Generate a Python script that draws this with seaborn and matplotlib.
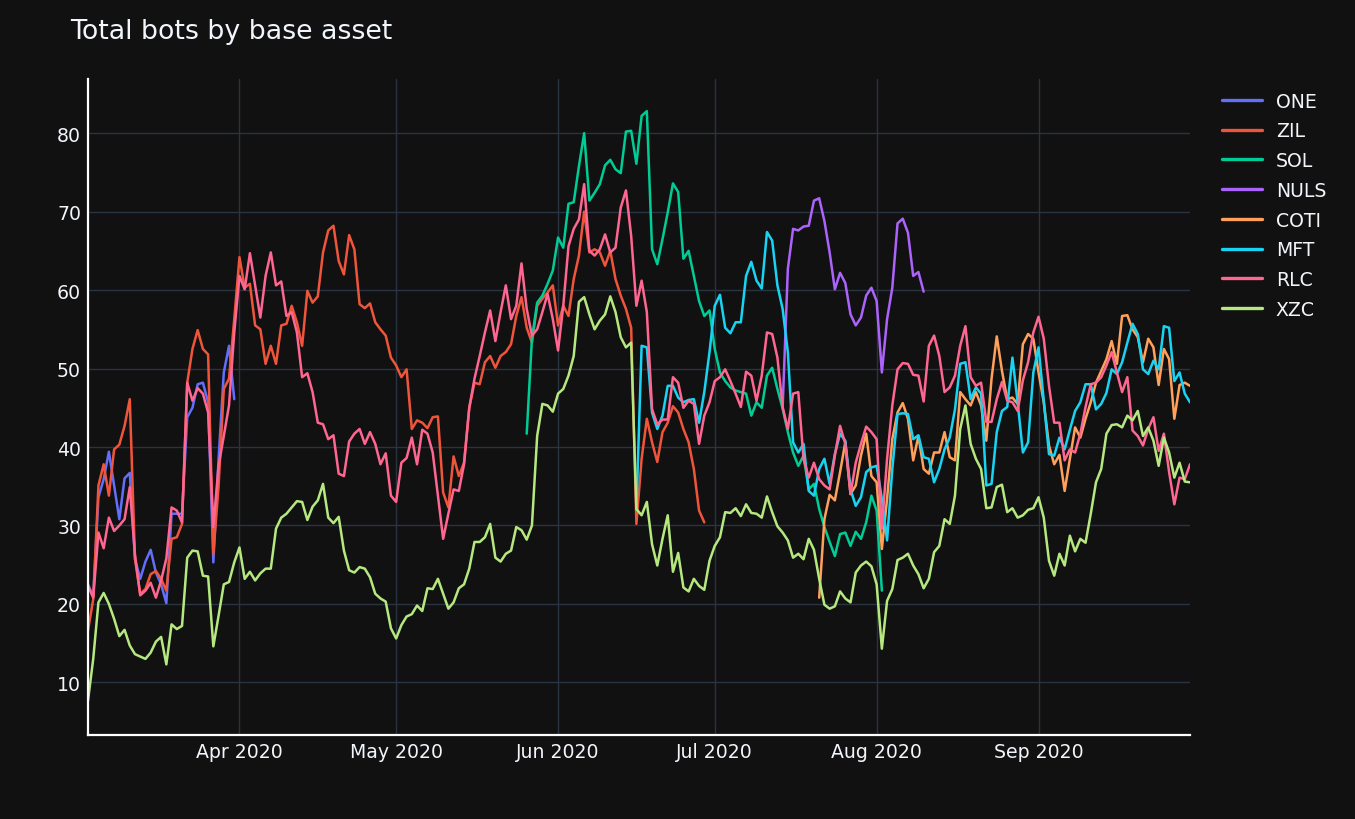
import pandas as pd
import numpy as np
import matplotlib
matplotlib.use("Agg")
import matplotlib.pyplot as plt
import matplotlib.dates as mdates
import seaborn as sns

# daily values, first day of each series given separately
one_start = "2020-03-03"
one = [22.5, 21.0, 33.6, 35.9, 39.4, 35.1, 30.8, 36.0, 36.7, 25.7,
       23.2, 25.4, 26.9, 24.0, 22.5, 20.1, 31.5, 31.5, 31.5, 43.8,
       45.0, 48.0, 48.2, 45.7, 25.3, 38.5, 49.5, 52.9, 46.1]

zil_start = "2020-03-03"
zil = [16.6, 20.6, 35.1, 37.8, 33.8, 39.7, 40.3, 42.7, 46.1, 25.7,
       21.3, 21.9, 23.8, 24.2, 23.2, 21.7, 28.3, 28.5, 30.2, 48.2,
       52.5, 54.9, 52.5, 51.8, 26.4, 35.0, 47.4, 48.7, 56.3, 64.2,
       60.3, 60.8, 55.5, 55.0, 50.6, 52.9, 50.6, 55.5, 55.7, 58.0,
       55.9, 52.9, 59.9, 58.4, 59.2, 64.8, 67.6, 68.2, 63.7, 62.0,
       67.0, 65.2, 58.2, 57.7, 58.3, 55.9, 55.0, 54.2, 51.4, 50.4,
       48.9, 49.9, 42.3, 43.4, 43.1, 42.4, 43.8, 43.9, 34.2, 32.3,
       38.8, 36.3, 38.0, 45.0, 48.2, 48.0, 50.8, 51.6, 50.1, 51.6,
       52.1, 53.1, 56.7, 59.1, 55.2, 53.3, 58.0, 58.9, 59.7, 60.6,
       55.5, 58.0, 56.7, 61.4, 64.4, 70.0, 64.8, 65.2, 64.8, 63.1,
       65.0, 61.4, 59.3, 57.6, 55.2, 30.2, 38.5, 43.6, 40.6, 38.1,
       41.9, 43.1, 45.2, 44.4, 42.3, 40.6, 37.2, 31.9, 30.4]

sol_start = "2020-05-26"
sol = [41.7, 53.8, 58.4, 59.3, 60.8, 62.5,
       66.7, 65.4, 71.0, 71.2, 75.8, 80.0, 71.4, 72.4, 73.5, 75.9,
       76.6, 75.4, 74.9, 80.2, 80.3, 76.1, 82.2, 82.8, 65.2, 63.3,
       66.5, 69.9, 73.6, 72.5, 64.0, 65.0, 61.8, 58.6, 56.7, 57.4,
       52.5, 49.5, 48.4, 47.6, 47.2, 47.0, 46.8, 44.0, 45.7, 45.0,
       49.1, 50.1, 47.4, 44.9, 41.9, 39.3, 37.6, 38.9, 34.6, 35.3,
       32.1, 29.8, 27.9, 26.1, 28.9, 29.1, 27.4, 29.2, 28.3, 30.4,
       33.8, 31.9, 21.7]

nuls_start = "2020-07-14"
nuls = [45.0, 62.7, 67.8, 67.6, 68.1, 68.2, 71.4, 71.7,
        68.8, 64.8, 60.1, 62.2, 60.9, 56.9, 55.5, 56.5, 59.3, 60.3,
        58.6, 49.5, 56.3, 60.3, 68.5, 69.1, 67.3, 61.8, 62.3, 59.8]

coti_start = "2020-07-21"
coti = [20.8, 30.8, 33.9, 33.2, 36.8, 40.6, 34.0, 35.1, 38.9, 41.7,
        36.3, 35.5, 27.0, 33.4, 41.0, 44.4, 45.6, 43.6, 38.3, 41.4,
        37.2, 36.6, 39.3, 39.3, 41.9, 38.7, 38.3, 47.0, 46.1, 45.3,
        47.0, 45.3, 40.8, 48.7, 54.1, 49.7, 46.1, 46.3, 45.5, 53.1,
        54.4, 53.8, 49.5, 45.7, 40.2, 37.8, 39.0, 34.4, 38.5, 42.5,
        41.2, 43.6, 45.7, 48.2, 49.7, 51.2, 53.5, 50.6, 56.7, 56.8,
        55.0, 54.0, 50.8, 53.8, 52.7, 47.9, 52.5, 51.2, 43.6, 47.9,
        48.2, 47.8]

mft_start = "2020-06-16"
mft = [32.0, 52.9, 52.7, 44.4, 42.3,
       44.0, 47.8, 47.8, 46.3, 45.7, 46.0, 46.1, 43.1, 47.0, 52.1,
       58.0, 59.4, 55.2, 54.5, 55.9, 55.9, 61.8, 63.6, 61.2, 60.2,
       67.4, 66.3, 60.6, 57.6, 52.1, 40.6, 39.3, 40.4, 34.4, 33.8,
       37.2, 38.5, 35.3, 39.1, 41.7, 40.8, 34.6, 32.5, 33.6, 36.8,
       37.4, 37.6, 33.4, 28.1, 37.2, 44.2, 44.3, 44.2, 41.0, 41.5,
       38.7, 38.5, 35.5, 37.2, 39.7, 41.2, 44.8, 50.6, 50.8, 46.1,
       47.6, 46.8, 35.1, 35.3, 41.9, 44.6, 45.1, 51.4, 45.7, 39.3,
       40.6, 49.5, 52.7, 45.9, 39.1, 38.9, 41.2, 39.7, 42.2, 44.6,
       45.7, 48.0, 48.0, 44.8, 45.5, 46.9, 49.9, 49.3, 50.8, 53.3,
       55.7, 54.4, 49.9, 49.3, 51.0, 49.9, 55.4, 55.2, 48.4, 49.5,
       46.8, 45.7]

rlc_start = "2020-03-03"
rlc = [22.3, 20.8, 29.1, 27.1, 31.0, 29.3, 30.0, 30.8, 34.9, 26.2,
       21.1, 21.7, 22.7, 20.8, 23.0, 25.8, 32.3, 31.9, 30.4, 48.2,
       45.9, 47.5, 46.8, 44.4, 29.8, 37.6, 41.4, 45.3, 54.6, 61.8,
       60.1, 64.7, 60.6, 56.5, 61.8, 64.8, 60.6, 61.1, 56.7, 57.2,
       54.6, 48.9, 49.4, 47.0, 43.1, 42.9, 41.0, 41.5, 36.6, 36.3,
       40.7, 41.7, 42.3, 40.4, 41.9, 40.4, 37.8, 39.2, 33.8, 33.0,
       38.0, 38.6, 41.2, 37.8, 42.2, 41.7, 39.3, 33.8, 28.3, 31.5,
       34.6, 34.4, 37.8, 45.0, 48.7, 51.6, 54.6, 57.4, 53.5, 57.2,
       60.6, 56.3, 58.0, 63.4, 57.6, 54.2, 55.0, 57.2, 59.5, 56.3,
       52.3, 58.0, 65.6, 67.8, 69.0, 73.5, 65.0, 64.4, 65.2, 67.1,
       64.8, 65.4, 70.5, 72.7, 66.9, 58.0, 61.2, 57.2, 44.8, 42.9,
       43.5, 43.5, 48.9, 48.2, 45.0, 45.9, 45.5, 40.4, 44.0, 45.7,
       48.4, 48.9, 49.9, 48.4, 46.8, 45.1, 49.6, 49.1, 45.9, 49.1,
       54.6, 54.4, 51.4, 45.1, 42.3, 46.8, 47.0, 38.5, 36.1, 38.0,
       35.9, 35.1, 34.6, 38.9, 42.7, 40.4, 34.0, 38.0, 40.4, 42.6,
       41.9, 41.0, 29.6, 38.5, 45.3, 49.9, 50.7, 50.6, 49.2, 49.1,
       45.8, 52.9, 54.2, 51.6, 47.0, 47.6, 49.1, 52.9, 55.4, 48.9,
       47.8, 48.2, 43.2, 43.2, 46.1, 48.3, 45.9, 45.7, 44.6, 48.5,
       50.8, 54.6, 56.6, 53.8, 47.8, 43.1, 43.1, 38.3, 39.7, 39.3,
       41.7, 45.1, 48.0, 48.2, 48.9, 50.4, 52.1, 49.5, 47.0, 48.9,
       42.1, 41.4, 40.2, 42.3, 43.8, 39.5, 41.7, 36.8, 32.7, 36.1,
       35.9, 37.8]

xzc_start = "2020-03-03"
xzc = [7.7, 13.0, 20.2, 21.4, 20.0, 18.1, 15.9, 16.7, 14.7, 13.6,
       13.3, 13.0, 13.8, 15.2, 15.8, 12.3, 17.4, 16.8, 17.2, 25.9,
       26.8, 26.7, 23.6, 23.5, 14.6, 18.5, 22.5, 22.8, 25.3, 27.2,
       23.2, 24.1, 23.0, 23.9, 24.5, 24.5, 29.6, 31.0, 31.5, 32.3,
       33.1, 33.0, 30.7, 32.4, 33.2, 35.3, 31.0, 30.3, 31.1, 26.8,
       24.3, 24.0, 24.7, 24.5, 23.4, 21.3, 20.7, 20.3, 16.9, 15.6,
       17.3, 18.4, 18.7, 19.8, 19.1, 22.0, 21.9, 23.2, 21.3, 19.4,
       20.2, 22.0, 22.5, 24.5, 27.9, 27.9, 28.5, 30.2, 25.9, 25.4,
       26.4, 26.8, 29.8, 29.4, 28.2, 30.0, 41.4, 45.5, 45.3, 44.5,
       46.8, 47.4, 49.1, 51.6, 58.5, 59.1, 56.9, 55.0, 56.1, 56.9,
       59.2, 57.2, 54.0, 52.7, 53.3, 32.1, 31.3, 33.0, 27.6, 24.9,
       28.3, 31.3, 24.1, 26.5, 22.1, 21.6, 23.2, 22.3, 21.8, 25.5,
       27.4, 28.5, 31.7, 31.6, 32.2, 31.2, 32.7, 31.6, 31.5, 31.0,
       33.7, 31.7, 29.9, 29.1, 28.1, 25.9, 26.4, 25.7, 28.3, 26.9,
       23.2, 19.9, 19.4, 19.7, 21.6, 20.7, 20.2, 24.0, 24.9, 25.4,
       24.8, 22.5, 14.3, 20.4, 21.9, 25.6, 25.9, 26.4, 24.9, 23.8,
       22.0, 23.2, 26.6, 27.4, 30.8, 30.2, 33.8, 42.3, 45.3, 40.4,
       38.5, 37.2, 32.2, 32.3, 34.9, 35.2, 31.7, 32.2, 31.0, 31.3,
       32.0, 32.2, 33.6, 31.0, 25.5, 23.6, 26.4, 24.9, 28.7, 26.7,
       28.3, 27.8, 31.5, 35.5, 37.2, 41.7, 42.8, 42.9, 42.5, 44.0,
       43.4, 44.6, 41.4, 42.5, 40.8, 37.6, 41.2, 39.3, 36.1, 38.0,
       35.6, 35.5]

assets = ["ONE", "ZIL", "SOL", "NULS", "COTI", "MFT", "RLC", "XZC"]
colors = ["#636efa", "#EF553B", "#00cc96", "#ab63fa",
          "#FFA15A", "#19d3f3", "#FF6692", "#B6E880"]

parts = []
for name, start, vals in [("ONE", one_start, one), ("ZIL", zil_start, zil),
                          ("SOL", sol_start, sol), ("NULS", nuls_start, nuls),
                          ("COTI", coti_start, coti), ("MFT", mft_start, mft),
                          ("RLC", rlc_start, rlc), ("XZC", xzc_start, xzc)]:
    parts.append(pd.DataFrame({"date": pd.date_range(start, periods=len(vals)),
                               "bots": vals, "asset": name}))
df = pd.concat(parts, ignore_index=True)

sns.set_style("dark")
plt.rcParams["font.family"] = ["DejaVu Sans"]

bg = "#111111"
fig = plt.figure(figsize=(13.55, 8.2), dpi=100, facecolor=bg)
ax = fig.add_axes([88 / 1355, 84 / 820, 1102 / 1355, 656 / 820])
ax.set_facecolor(bg)

sns.lineplot(data=df, x="date", y="bots", hue="asset", hue_order=assets,
             palette=colors, estimator=None, linewidth=1.8, ax=ax)

ax.set_xlim(pd.Timestamp("2020-03-03"), pd.Timestamp("2020-09-30"))
ax.set_ylim(3.3, 86.9)
ax.set_yticks(range(10, 81, 10))
ax.xaxis.set_major_locator(mdates.MonthLocator())
ax.xaxis.set_major_formatter(mdates.DateFormatter("%b %Y"))
ax.grid(True, color="#283442", linewidth=1)
ax.set_axisbelow(True)
ax.tick_params(colors="#f2f5fa", labelsize=13.6, length=0)
ax.tick_params(axis="y", pad=5)
ax.tick_params(axis="x", pad=5)
ax.set_xlabel("")
ax.set_ylabel("")
for side in ["top", "right"]:
    ax.spines[side].set_visible(False)
for side in ["left", "bottom"]:
    ax.spines[side].set_color("white")
    ax.spines[side].set_linewidth(1.6)

leg = ax.legend(loc="upper left", bbox_to_anchor=(1222 / 1355, 1 - 92.5 / 820),
                bbox_transform=fig.transFigure, frameon=False, fontsize=13.6,
                handlelength=2.1, handletextpad=0.75, labelspacing=0.57,
                borderpad=0, borderaxespad=0)
for t in leg.get_texts():
    t.set_color("#f2f5fa")
for line in leg.get_lines():
    line.set_linewidth(2.4)

fig.text(70 / 1355, 1 - 32 / 820, "Total bots by base asset", color="#f2f5fa",
         fontsize=19.3, va="center", ha="left")

fig.savefig("out.png", dpi=100, facecolor=bg)
